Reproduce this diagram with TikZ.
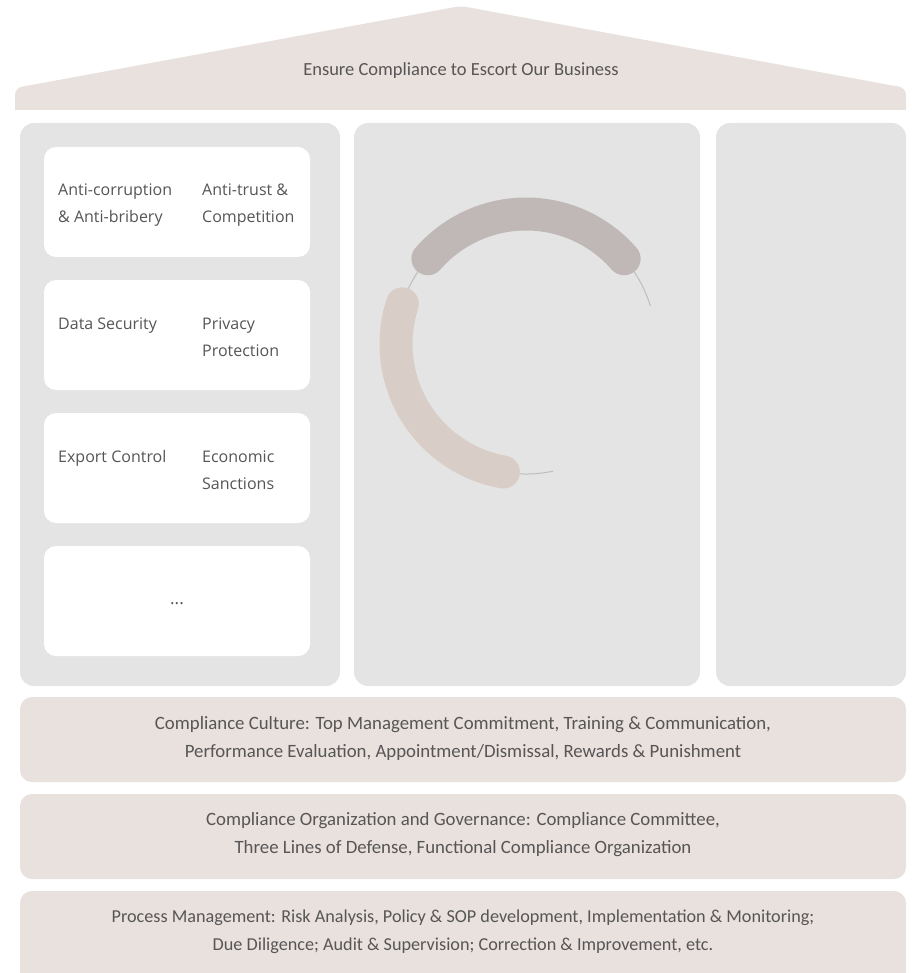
\documentclass[tikz,border=0pt]{standalone}
\usepackage{fontspec}
\setmainfont{Carlito}
\newfontfamily\boxfont{Open Sans}
\definecolor{roofc}{HTML}{E8E1DE}
\definecolor{colc}{HTML}{E4E4E4}
\definecolor{darkarc}{HTML}{C0B8B7}
\definecolor{beigearc}{HTML}{D8CEC7}
\definecolor{thinarc}{HTML}{BDBDBD}
\definecolor{txt}{HTML}{575555}
\tikzset{
  colbox/.style={fill=colc, rounded corners=14pt, inner sep=0pt, minimum height=563pt},
  whitebox/.style={fill=white, rounded corners=12pt, inner sep=0pt, minimum width=266pt, minimum height=110pt},
  band/.style={fill=roofc, rounded corners=12pt, inner sep=0pt, minimum width=886pt, minimum height=85pt},
  lbl/.style={text=txt, font=\boxfont\fontsize{16}{27}\selectfont, inner sep=0pt, anchor=base west},
  bandtxt/.style={text=txt, font=\fontsize{18.8}{28}\selectfont, inner sep=0pt, align=center},
}
\begin{document}
\begin{tikzpicture}[x=1pt,y=-1pt]
\useasboundingbox (0,0) rectangle (911,973);
\clip (0,0) rectangle (911,973);
% roof
\fill[roofc] (15,110) [rounded corners=7pt] -- (15,88) -- (461,6) -- (906,88) [sharp corners] -- (906,110) -- cycle;
\node[text=txt, font=\fontsize{18.5}{20}\selectfont, inner sep=0pt] (roof) at (461,71) {Ensure Compliance to Escort Our Business};
% columns
\node[colbox, minimum width=320pt] (colL) at (180,404.5) {};
\node[colbox, minimum width=346pt] (colM) at (527,404.5) {};
\node[colbox, minimum width=190pt] (colR) at (811,404.5) {};
% white boxes
\node[whitebox] (b1) at (177,202) {};
\node[whitebox] (b2) at (177,335) {};
\node[whitebox] (b3) at (177,468) {};
\node[whitebox] (b4) at (177,601) {};
\node[lbl] (t1a) at (58,196) {Anti-corruption};
\node[lbl] (t1b) at (58,223) {\& Anti-bribery};
\node[lbl] (t1c) at (202,196) {Anti-trust \&};
\node[lbl] (t1d) at (202,223) {Competition};
\node[lbl] (t2a) at (58,329) {Data Security};
\node[lbl] (t2c) at (202,329) {Privacy};
\node[lbl] (t2d) at (202,356) {Protection};
\node[lbl] (t3a) at (58,462) {Export Control};
\node[lbl] (t3c) at (202,462) {Economic};
\node[lbl] (t3d) at (202,489) {Sanctions};
\node[text=txt, font=\boxfont\fontsize{17}{18}\selectfont, inner sep=0pt] (t4) at (177,604) {...};
% arcs
\coordinate (ctr) at (526,344);
\draw[thinarc, line width=1pt] (ctr) ++(-17:130) arc[start angle=-17, end angle=-282, radius=130];
\draw[darkarc, line width=33pt, line cap=round] (ctr) ++(-41:130) arc[start angle=-41, end angle=-139, radius=130];
\draw[beigearc, line width=33pt, line cap=round] (ctr) ++(-162:130) arc[start angle=-162, end angle=-260, radius=130];
% bands
\node[band] (band1) at (463,739.5) {};
\node[band] (band2) at (463,836.5) {};
\node[band, minimum height=100pt] (band3) at (463,941) {};
\node[bandtxt] (bt1) at (463,738) {Compliance Culture: Top Management Commitment, Training \& Communication,\\Performance Evaluation, Appointment/Dismissal, Rewards \& Punishment};
\node[bandtxt] (bt2) at (463,835) {Compliance Organization and Governance: Compliance Committee,\\Three Lines of Defense, Functional Compliance Organization};
\node[bandtxt, font=\fontsize{18.2}{28}\selectfont] (bt3) at (463,932) {Process Management: Risk Analysis, Policy \& SOP development, Implementation \& Monitoring;\\Due Diligence; Audit \& Supervision; Correction \& Improvement, etc.};
\end{tikzpicture}
\end{document}
